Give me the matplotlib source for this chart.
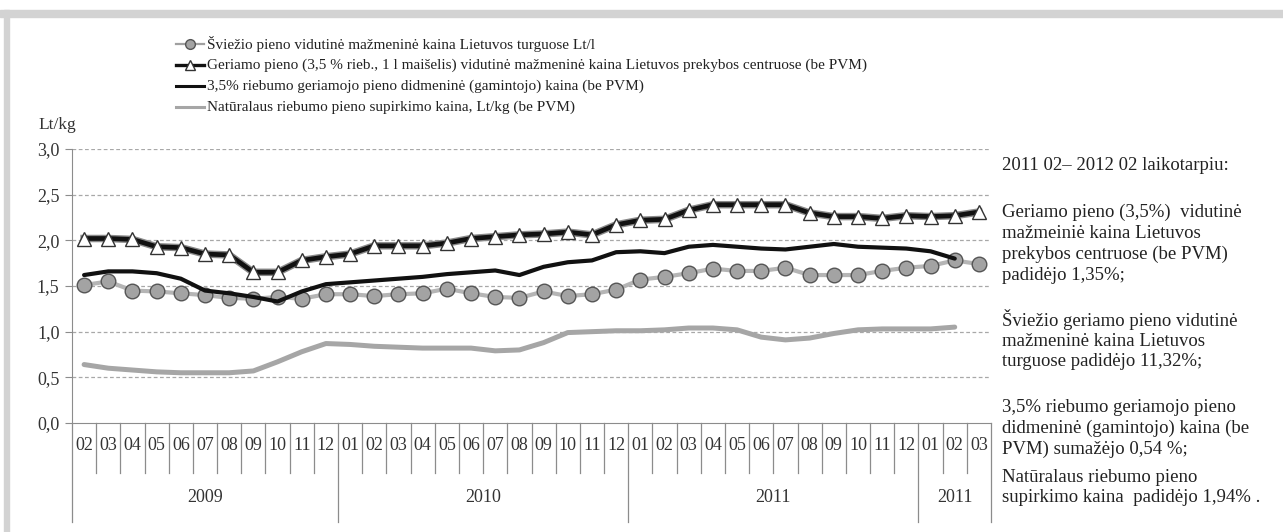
import numpy as np
import matplotlib.pyplot as plt
from matplotlib.lines import Line2D
from matplotlib.patches import Rectangle
import matplotlib.transforms as mtransforms

plt.rcParams['font.family'] = ['Liberation Serif', 'DejaVu Serif']

# month labels: 2009-02 .. 2012-03 (last year printed as 2011 in the source)
months = ['02', '03', '04', '05', '06', '07', '08', '09', '10', '11', '12',
          '01', '02', '03', '04', '05', '06', '07', '08', '09', '10', '11', '12',
          '01', '02', '03', '04', '05', '06', '07', '08', '09', '10', '11', '12',
          '01', '02', '03']
years = ['2009', '2010', '2011', '2011']
year_counts = [11, 12, 12, 3]

# Šviežio pieno vidutinė mažmeninė kaina Lietuvos turguose
fresh = [1.51, 1.55, 1.45, 1.44, 1.42, 1.40, 1.37, 1.36, 1.38, 1.36, 1.41,
         1.41, 1.39, 1.41, 1.42, 1.47, 1.42, 1.38, 1.37, 1.44, 1.39, 1.41, 1.46,
         1.57, 1.60, 1.64, 1.69, 1.665, 1.665, 1.70, 1.62, 1.62, 1.62, 1.665, 1.70,
         1.72, 1.78, 1.74]
# Geriamo pieno vidutinė mažmeninė kaina prekybos centruose
retail = [2.02, 2.02, 2.01, 1.93, 1.92, 1.85, 1.84, 1.65, 1.65, 1.78, 1.82,
          1.85, 1.94, 1.94, 1.94, 1.97, 2.02, 2.04, 2.06, 2.07, 2.09, 2.06, 2.17,
          2.22, 2.23, 2.33, 2.39, 2.39, 2.39, 2.39, 2.30, 2.26, 2.26, 2.24, 2.27,
          2.26, 2.27, 2.31]
# didmeninė (gamintojo) kaina
wholesale = [1.62, 1.66, 1.66, 1.64, 1.58, 1.45, 1.42, 1.38, 1.33, 1.44, 1.52,
             1.54, 1.56, 1.58, 1.60, 1.63, 1.65, 1.67, 1.62, 1.71, 1.76, 1.78, 1.87,
             1.88, 1.86, 1.93, 1.95, 1.93, 1.91, 1.90, 1.93, 1.96, 1.93, 1.92, 1.91,
             1.88, 1.80, np.nan]
# supirkimo kaina
purchase = [0.64, 0.60, 0.58, 0.56, 0.55, 0.55, 0.55, 0.57, 0.67, 0.78, 0.87,
            0.86, 0.84, 0.83, 0.82, 0.82, 0.82, 0.79, 0.80, 0.88, 0.99, 1.00, 1.01,
            1.01, 1.02, 1.04, 1.04, 1.02, 0.94, 0.91, 0.93, 0.98, 1.02, 1.03, 1.03,
            1.03, 1.05, np.nan]

legend_labels = [
    'Šviežio pieno vidutinė mažmeninė kaina Lietuvos turguose Lt/l',
    'Geriamo pieno (3,5 % rieb., 1 l maišelis) vidutinė mažmeninė kaina Lietuvos prekybos centruose (be PVM)',
    '3,5% riebumo geriamojo pieno didmeninė (gamintojo) kaina (be PVM)',
    'Natūralaus riebumo pieno supirkimo kaina, Lt/kg (be PVM)',
]

side_text = [
    ('2011 02– 2012 02 laikotarpiu:', 166),
    ('Geriamo pieno (3,5%)  vidutinė', 212),
    ('mažmeiniė kaina Lietuvos', 233),
    ('prekybos centruose (be PVM)', 254),
    ('padidėjo 1,35%;', 275),
    ('Šviežio geriamo pieno vidutinė', 320),
    ('mažmeninė kaina Lietuvos', 341),
    ('turguose padidėjo 11,32%;', 362),
    ('3,5% riebumo geriamojo pieno', 408),
    ('didmeninė (gamintojo) kaina (be', 428),
    ('PVM) sumažėjo 0,54 %;', 449),
    ('Natūralaus riebumo pieno', 477),
    ('supirkimo kaina  padidėjo 1,94% .', 498),
]

W, H = 1283, 532
fig = plt.figure(figsize=(W / 100, H / 100), dpi=100)

def fx(px):
    return px / W

def fy(py):
    return 1 - py / H

# grey frame (top band and left band)
fig.patches.append(Rectangle((0, fy(17)), 1, fy(10) - fy(17), transform=fig.transFigure,
                             color='#d3d3d3', zorder=0))
fig.patches.append(Rectangle((fx(4), 0), fx(5), fy(10), transform=fig.transFigure,
                             color='#d3d3d3', zorder=0))

ax_l, ax_r, ax_t, ax_b = 72, 991, 149, 423
ax = fig.add_axes([fx(ax_l), fy(ax_b), fx(ax_r - ax_l), fy(ax_t) - fy(ax_b)])

x = np.arange(len(months))
ax.set_xlim(-0.5, len(months) - 0.5)
ax.set_ylim(0, 3.0)

for s in ['top', 'right']:
    ax.spines[s].set_visible(False)
ax.spines['left'].set_color('#8c8c8c')
ax.spines['bottom'].set_color('#8c8c8c')

yt = np.arange(0, 3.01, 0.5)
ax.set_yticks(yt)
ax.set_yticklabels([f'{v:.1f}'.replace('.', ',') for v in yt], fontsize=13, color='#333333')
ax.tick_params(axis='y', length=5, color='#8c8c8c', pad=4)
ax.set_xticks([])
for v in yt[1:]:
    ax.axhline(v, color='#a8a8a8', lw=0.9, ls=(0, (3, 2)), zorder=1)

# series
ax.plot(x, purchase, color='#a6a6a6', lw=3.6, solid_capstyle='round', zorder=2)
ax.plot(x, fresh, color='#b5b5b5', lw=3, marker='o', ms=10.5, mfc='#a3a3a3',
        mec='#555555', mew=1.0, zorder=3)
ax.plot(x, wholesale, color='#111111', lw=3.0, solid_capstyle='round', zorder=4)
ax.plot(x, retail, color='#8a8a8a', lw=5.4, zorder=5)
ax.plot(x, retail, color='#111111', lw=3.4, marker='^', ms=10.5, mfc='white',
        mec='#333333', mew=1.0, zorder=6)

# category axis: separators, month and year labels
trans = mtransforms.blended_transform_factory(ax.transData, ax.transAxes)
hax = ax_b - ax_t
year_bounds = np.cumsum([0] + year_counts)
for i in range(len(months) + 1):
    depth = 99 if i in year_bounds else 50
    ax.add_line(Line2D([i - 0.5, i - 0.5], [0, -depth / hax], transform=trans,
                       color='#8c8c8c', lw=0.9, clip_on=False))
for i, m in enumerate(months):
    ax.text(i, -22 / hax, m, transform=trans, ha='center', va='center',
            fontsize=13, color='#333333')
for k, yr in enumerate(years):
    c = (year_bounds[k] + year_bounds[k + 1] - 1) / 2
    ax.text(c, -75 / hax, yr, transform=trans, ha='center', va='center',
            fontsize=13, color='#333333')

fig.text(fx(38), fy(125), 'Lt/kg', fontsize=12.5, color='#333333', va='center')

# legend
line_styles = [
    dict(color='#a0a0a0', lw=1.6),
    dict(color='#111111', lw=2.4),
    dict(color='#111111', lw=2.2),
    dict(color='#a6a6a6', lw=2.2),
]
marker_styles = [
    dict(marker='o', ms=7, mfc='#a3a3a3', mec='#555555'),
    dict(marker='^', ms=7, mfc='white', mec='#333333'),
    None,
    None,
]
rows = [44, 65, 86, 107]
lx0, lx1 = 176, 204
for ls_, ms_, lab, ry in zip(line_styles, marker_styles, legend_labels, rows):
    fig.add_artist(Line2D([fx(lx0), fx(lx1)], [fy(ry), fy(ry)],
                          transform=fig.transFigure, **ls_))
    if ms_ is not None:
        fig.add_artist(Line2D([fx((lx0 + lx1) / 2)], [fy(ry)], transform=fig.transFigure,
                              ls='none', **ms_))
    fig.text(fx(207), fy(ry), lab, fontsize=11, color='#222222', va='center')

for txt, ty in side_text:
    fig.text(fx(1002), fy(ty), txt, fontsize=13.5, color='#222222', va='center')

fig.savefig('out.png', dpi=100)
